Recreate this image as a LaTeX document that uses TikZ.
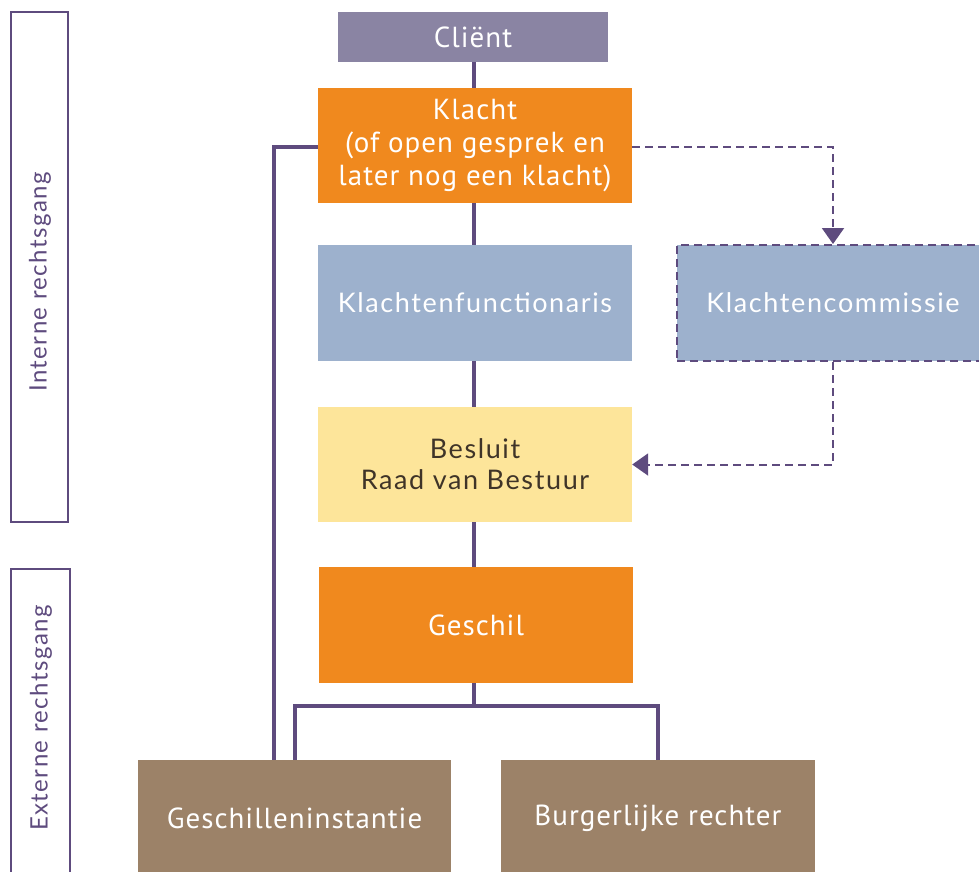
\documentclass[tikz,border=0pt]{standalone}
\usepackage{fontspec}
\setmainfont{PT Sans}[LetterSpace=3.5]
\newfontfamily\widefont{Lato}[LetterSpace=6]
\usepackage{tikz}
\usetikzlibrary{arrows.meta}

\definecolor{paars}{HTML}{5E4B7E}
\definecolor{grijspaars}{HTML}{8A84A3}
\definecolor{oranje}{HTML}{F0891E}
\definecolor{lichtblauw}{HTML}{9DB1CD}
\definecolor{lichtgeel}{HTML}{FDE59A}
\definecolor{bruin}{HTML}{9C8268}
\definecolor{donkerbruin}{HTML}{3F3428}

\tikzset{
    blok/.style = {rectangle, minimum width = 314, minimum height = 116,
        align = center, text = white, inner sep = 0,
        font = \fontsize{29}{33}\selectfont},
    breed/.style = {font = \widefont\fontsize{27}{31}\selectfont},
    lijn/.style = {paars, line width = 4},
    stippel/.style = {paars, line width = 2, dash pattern = on 8 off 5,
        -{Triangle[width = 22, length = 16]}},
    zijkant/.style = {draw = paars, line width = 2, rectangle, inner sep = 0},
    zijtekst/.style = {paars, rotate = 90,
        font = \widefont\fontsize{24}{28}\selectfont}
}

\begin{document}
\begin{tikzpicture}[x = 1pt, y = -1pt]
    \useasboundingbox (0, 0) rectangle (979, 871);

    % linkerkant
    \node[zijkant, minimum width = 57, minimum height = 510] (intern) at (39.5, 267) {};
    \node[zijtekst] at (40, 282) {Interne rechtsgang};
    \node[zijkant, minimum width = 59, minimum height = 310] (extern) at (40.5, 724) {};
    \node[zijtekst] at (41, 718) {Externe rechtsgang};

    % hulppunten
    \coordinate (splits) at (474, 706);
    \coordinate (links) at (274, 147);

    % lijnen achter de blokken
    \draw[lijn] (474, 37) -- (474, 625);

    \node[blok, fill = grijspaars, minimum width = 270, minimum height = 50] (client) at (473, 37) {Cliënt};
    \node[blok, fill = oranje, minimum height = 115] (klacht) at (475, 145.5)
        {Klacht\\(of open gesprek en\\later nog een klacht)};
    \node[blok, breed, fill = lichtblauw] (functionaris) at (475, 303) {Klachtenfunctionaris};
    \node[blok, breed, fill = lichtblauw, draw = paars, line width = 2, dash pattern = on 8 off 5,
        minimum width = 312] (commissie) at (833, 303) {Klachtencommissie};
    \node[blok, breed, fill = lichtgeel, text = donkerbruin, minimum height = 115] (besluit) at (475, 464.5)
        {Besluit\\Raad van Bestuur};
    \node[blok, fill = oranje] (geschil) at (476, 625) {Geschil};
    \node[blok, fill = bruin, minimum width = 313] (instantie) at (294.5, 818) {Geschilleninstantie};
    \node[blok, fill = bruin] (rechter) at (658, 818) {Burgerlijke rechter};

    % verbindingen
    \draw[lijn] (klacht.west |- links) -- (links) -- (links |- instantie.north);
    \draw[lijn] (geschil.south -| splits) -- (splits);
    \draw[lijn] (instantie.north) |- (splits) -| (rechter.north);

    % stippellijnen
    \draw[stippel] (klacht.east |- links) -| (commissie.north);
    \draw[stippel] (commissie.south) |- (besluit.east);
\end{tikzpicture}
\end{document}
